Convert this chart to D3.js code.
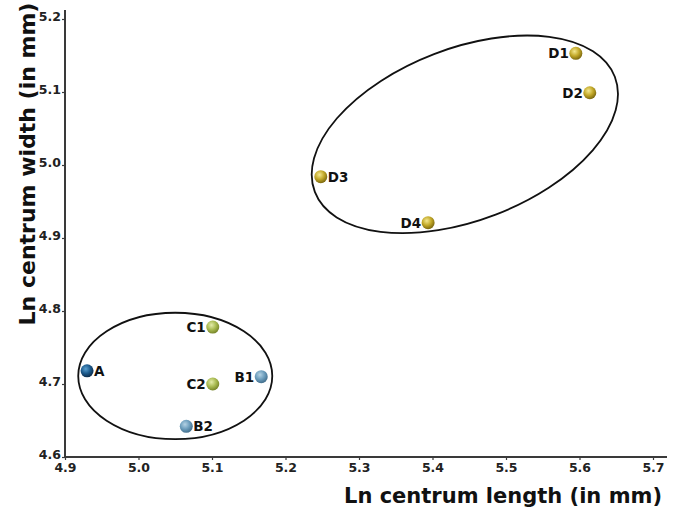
<!DOCTYPE html>
<html>
<head>
<meta charset="utf-8">
<style>
    body { margin: 0; background: #fff; }
    text { font-family: "DejaVu Sans", Verdana, sans-serif; font-weight: bold; }
</style>
</head>
<body>
<svg></svg>
<script src="https://cdn.jsdelivr.net/npm/d3@7/dist/d3.min.js"></script>
<script>
    // specimen values (ln of centrum length / width)
    let names   = ["A", "B1", "B2", "C1", "C2", "D1", "D2", "D3", "D4"];
    let lengths = [4.930, 5.167, 5.065, 5.101, 5.101, 5.595, 5.614, 5.248, 5.394];
    let widths  = [4.718, 4.710, 4.642, 4.778, 4.700, 5.153, 5.099, 4.984, 4.921];
    let groups  = ["A", "B", "B", "C", "C", "D", "D", "D", "D"];
    let labelSide = ["right", "left", "right", "left", "left", "left", "left", "right", "left"];

    let xTicks = [4.9, 5.0, 5.1, 5.2, 5.3, 5.4, 5.5, 5.6, 5.7];
    let yTicks = [4.6, 4.7, 4.8, 4.9, 5.0, 5.1, 5.2];

    // grouping ellipses: centre (data), semi axes (in x units), rotation
    let ellipseCx    = [5.050, 5.444];
    let ellipseCy    = [4.711, 5.042];
    let ellipseRx    = [0.132, 0.2186];
    let ellipseRy    = [0.086, 0.117];
    let ellipseAngle = [0, -21];

    let width = 681,
        height = 510;

    let svg = d3.select("svg")
        .attr("width", width)
        .attr("height", height);

    let x = d3.scaleLinear().domain([4.9, 5.7]).range([65, 653]);
    let y = d3.scaleLinear().domain([4.6, 5.2]).range([457, 19]);

    let colors = {
        A: ["#5aa0d0", "#1c5a8c", "#0c2c4c"],
        B: ["#b4d2e4", "#6d9ebd", "#44708e"],
        C: ["#e4ecaa", "#a9bb52", "#78862a"],
        D: ["#f4e890", "#c2a828", "#7e6a10"]
    };

    let defs = svg.append("defs");
    Object.keys(colors).forEach(function (k) {
        let g = defs.append("radialGradient")
            .attr("id", "ball" + k)
            .attr("cx", "40%").attr("cy", "35%").attr("r", "65%");
        g.append("stop").attr("offset", "0%").attr("stop-color", colors[k][0]);
        g.append("stop").attr("offset", "55%").attr("stop-color", colors[k][1]);
        g.append("stop").attr("offset", "100%").attr("stop-color", colors[k][2]);
    });

    // ellipses
    let scaleX = x(5.0) - x(4.9);
    ellipseCx.forEach(function (cx, i) {
        svg.append("ellipse")
            .attr("transform", "translate(" + x(cx) + "," + y(ellipseCy[i]) + ") rotate(" + ellipseAngle[i] + ")")
            .attr("rx", ellipseRx[i] / 0.1 * scaleX)
            .attr("ry", ellipseRy[i] / 0.1 * scaleX)
            .attr("fill", "none")
            .attr("stroke", "#111")
            .attr("stroke-width", 1.8);
    });

    // axes
    let axisColor = "#3a3a3a";
    let xAxis = svg.append("g")
        .attr("transform", "translate(0," + y(4.6) + ")")
        .call(d3.axisBottom(x).tickValues(xTicks).tickFormat(d3.format(".1f")).tickSize(3).tickPadding(3));
    let yAxis = svg.append("g")
        .attr("transform", "translate(" + x(4.9) + ",0)")
        .call(d3.axisLeft(y).tickValues(yTicks).tickFormat(d3.format(".1f")).tickSize(3).tickPadding(1));

    xAxis.select(".domain").remove();
    yAxis.select(".domain").remove();
    [xAxis, yAxis].forEach(function (ax) {
        ax.selectAll("line").attr("stroke", axisColor).attr("stroke-width", 1.2);
        ax.selectAll("text").attr("fill", "#222").style("font-size", "12.5px").style("font-weight", "bold")
            .style("font-family", "'DejaVu Sans', Verdana, sans-serif");
    });
    yAxis.selectAll("text").attr("dy", "0").attr("y", 1);

    svg.append("line")
        .attr("x1", x(4.9)).attr("x2", 667)
        .attr("y1", y(4.6)).attr("y2", y(4.6))
        .attr("stroke", axisColor).attr("stroke-width", 2);
    svg.append("line")
        .attr("x1", x(4.9)).attr("x2", x(4.9))
        .attr("y1", 10).attr("y2", y(4.6))
        .attr("stroke", axisColor).attr("stroke-width", 2);

    // axis titles
    svg.append("text")
        .attr("x", 662).attr("y", 503)
        .attr("text-anchor", "end")
        .style("font-size", "21px")
        .attr("fill", "#111")
        .text("Ln centrum length (in mm)");
    svg.append("text")
        .attr("transform", "translate(35,164) rotate(-90)")
        .attr("text-anchor", "middle")
        .style("font-size", "22px")
        .attr("fill", "#111")
        .text("Ln centrum width (in mm)");

    // points
    names.forEach(function (n, i) {
        let px = x(lengths[i]), py = y(widths[i]);
        svg.append("circle")
            .attr("cx", px).attr("cy", py).attr("r", 6.5)
            .attr("fill", "url(#ball" + groups[i] + ")");
        let right = labelSide[i] === "right";
        svg.append("text")
            .attr("x", right ? px + 7 : px - 7)
            .attr("y", py + 5)
            .attr("text-anchor", right ? "start" : "end")
            .style("font-size", "13.5px")
            .attr("fill", "#111")
            .text(n);
    });
</script>
</body>
</html>
